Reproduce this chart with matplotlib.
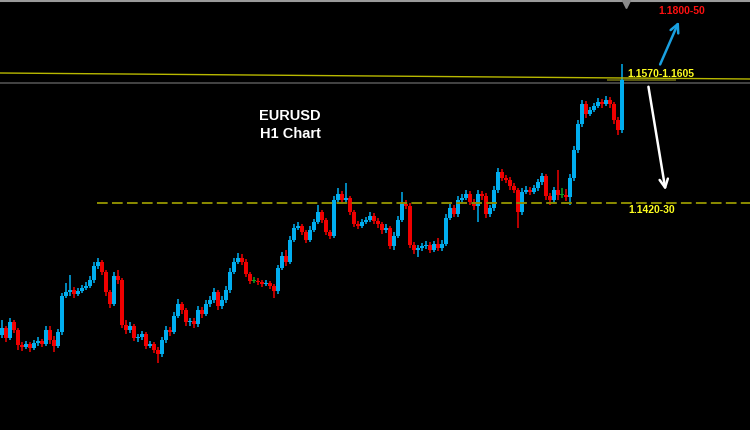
import matplotlib
matplotlib.use("Agg")
import matplotlib.pyplot as plt
import numpy as np

# ---- data: EURUSD H1 candles (prices) ----
first_open = 1.1260
closes = [1.1269, 1.1256, 1.1276, 1.1266, 1.1248, 1.1245, 1.1249, 1.1244, 1.1250, 1.1253,
          1.1249, 1.1266, 1.1254, 1.1246, 1.1264, 1.1309, 1.1314, 1.1316, 1.1311, 1.1315,
          1.1319, 1.1321, 1.1329, 1.1346, 1.1351, 1.1339, 1.1314, 1.1299, 1.1334, 1.1329,
          1.1273, 1.1266, 1.1271, 1.1256, 1.1258, 1.1261, 1.1246, 1.1249, 1.1241, 1.1236,
          1.1254, 1.1266, 1.1264, 1.1284, 1.1299, 1.1291, 1.1276, 1.1278, 1.1274, 1.1291,
          1.1286, 1.1299, 1.1304, 1.1314, 1.1296, 1.1304, 1.1316, 1.1339, 1.1351, 1.1356,
          1.1351, 1.1336, 1.1328, 1.1328, 1.1326, 1.1324, 1.1325, 1.1321, 1.1315, 1.1344,
          1.1359, 1.1351, 1.1379, 1.1394, 1.1396, 1.1389, 1.1379, 1.1391, 1.1401, 1.1414,
          1.1404, 1.1389, 1.1384, 1.1429, 1.1436, 1.1429, 1.1431, 1.1414, 1.1399, 1.1396,
          1.1401, 1.1404, 1.1409, 1.1403, 1.1399, 1.1391, 1.1394, 1.1371, 1.1384, 1.1404,
          1.1424, 1.1421, 1.1373, 1.1366, 1.1369, 1.1371, 1.1373, 1.1366, 1.1374, 1.1369,
          1.1374, 1.1406, 1.1419, 1.1411, 1.1429, 1.1431, 1.1436, 1.1426, 1.1421, 1.1436,
          1.1434, 1.1411, 1.1419, 1.1441, 1.1464, 1.1456, 1.1454, 1.1446, 1.1441, 1.1414,
          1.1439, 1.1441, 1.1439, 1.1444, 1.1451, 1.1459, 1.1434, 1.1429, 1.1441, 1.1435,
          1.1435, 1.1433, 1.1456, 1.1491, 1.1524, 1.1549, 1.1536, 1.1541, 1.1546, 1.1551,
          1.1549, 1.1554, 1.1549, 1.1529, 1.1516, 1.1579]
highs = [1.1279, 1.1271, 1.1281, 1.1279, 1.1269, 1.1251, 1.1253, 1.1251, 1.1254, 1.1258,
         1.1255, 1.1271, 1.1271, 1.1259, 1.1268, 1.1313, 1.1325, 1.1335, 1.1320, 1.1319,
         1.1323, 1.1326, 1.1334, 1.1351, 1.1356, 1.1354, 1.1341, 1.1316, 1.1339, 1.1341,
         1.1331, 1.1279, 1.1276, 1.1274, 1.1261, 1.1265, 1.1264, 1.1253, 1.1251, 1.1245,
         1.1258, 1.1271, 1.1270, 1.1289, 1.1305, 1.1301, 1.1294, 1.1281, 1.1281, 1.1296,
         1.1295, 1.1304, 1.1309, 1.1319, 1.1316, 1.1309, 1.1321, 1.1344, 1.1356, 1.1363,
         1.1361, 1.1355, 1.1339, 1.1333, 1.1331, 1.1329, 1.1329, 1.1328, 1.1324, 1.1348,
         1.1364, 1.1366, 1.1384, 1.1399, 1.1401, 1.1399, 1.1391, 1.1396, 1.1405, 1.1423,
         1.1416, 1.1406, 1.1391, 1.1434, 1.1444, 1.1440, 1.1450, 1.1434, 1.1416, 1.1403,
         1.1405, 1.1408, 1.1414, 1.1413, 1.1406, 1.1401, 1.1399, 1.1396, 1.1389, 1.1409,
         1.1439, 1.1429, 1.1425, 1.1376, 1.1373, 1.1375, 1.1378, 1.1376, 1.1378, 1.1381,
         1.1379, 1.1411, 1.1424, 1.1423, 1.1434, 1.1436, 1.1441, 1.1440, 1.1430, 1.1441,
         1.1440, 1.1438, 1.1423, 1.1446, 1.1469, 1.1468, 1.1460, 1.1458, 1.1450, 1.1444,
         1.1444, 1.1446, 1.1445, 1.1448, 1.1455, 1.1463, 1.1461, 1.1438, 1.1445, 1.1466,
         1.1444, 1.1443, 1.1461, 1.1496, 1.1529, 1.1554, 1.1553, 1.1545, 1.1550, 1.1556,
         1.1555, 1.1559, 1.1558, 1.1551, 1.1533, 1.1599]
lows = [1.1256, 1.1251, 1.1254, 1.1263, 1.1241, 1.1240, 1.1243, 1.1239, 1.1241, 1.1246,
        1.1245, 1.1246, 1.1249, 1.1239, 1.1244, 1.1260, 1.1306, 1.1309, 1.1306, 1.1309,
        1.1313, 1.1316, 1.1319, 1.1325, 1.1343, 1.1335, 1.1309, 1.1294, 1.1296, 1.1324,
        1.1269, 1.1261, 1.1263, 1.1253, 1.1251, 1.1254, 1.1243, 1.1244, 1.1238, 1.1225,
        1.1233, 1.1250, 1.1259, 1.1261, 1.1281, 1.1286, 1.1271, 1.1271, 1.1269, 1.1270,
        1.1281, 1.1284, 1.1295, 1.1300, 1.1291, 1.1293, 1.1300, 1.1313, 1.1336, 1.1349,
        1.1348, 1.1333, 1.1324, 1.1325, 1.1323, 1.1320, 1.1321, 1.1318, 1.1306, 1.1311,
        1.1341, 1.1346, 1.1349, 1.1376, 1.1391, 1.1385, 1.1375, 1.1376, 1.1389, 1.1399,
        1.1400, 1.1385, 1.1380, 1.1381, 1.1425, 1.1424, 1.1425, 1.1410, 1.1395, 1.1393,
        1.1394, 1.1399, 1.1401, 1.1399, 1.1394, 1.1386, 1.1388, 1.1368, 1.1366, 1.1381,
        1.1401, 1.1418, 1.1369, 1.1361, 1.1358, 1.1365, 1.1368, 1.1363, 1.1364, 1.1365,
        1.1365, 1.1371, 1.1404, 1.1408, 1.1408, 1.1425, 1.1429, 1.1423, 1.1416, 1.1401,
        1.1429, 1.1406, 1.1408, 1.1415, 1.1438, 1.1453, 1.1450, 1.1441, 1.1438, 1.1394,
        1.1410, 1.1436, 1.1435, 1.1436, 1.1440, 1.1448, 1.1429, 1.1423, 1.1425, 1.1429,
        1.1431, 1.1428, 1.1423, 1.1453, 1.1488, 1.1520, 1.1531, 1.1534, 1.1539, 1.1544,
        1.1544, 1.1546, 1.1544, 1.1524, 1.1510, 1.1513]

support_level = 1.1425        # "1.1420-30"
zone_left, zone_right = 1.15875, 1.1580   # sloping resistance line
zone_low = 1.1575
zone_box = (1.1578, 1.1580)
labels = {"target": "1.1800-50", "zone": "1.1570-1.1605", "support": "1.1420-30"}
title_lines = ["EURUSD", "H1 Chart"]

# ---- figure ----
W, H = 750, 430
fig = plt.figure(figsize=(W / 100, H / 100), dpi=100, facecolor="black")
ax = fig.add_axes([0, 0, 1, 1])
ax.set_facecolor("black")
ax.set_axis_off()

n = len(closes)
opens = [first_open] + closes[:-1]
idx = np.arange(n)
o = np.array(opens); c = np.array(closes)
hi = np.maximum(np.array(highs), np.maximum(o, c))
lo = np.minimum(np.array(lows), np.minimum(o, c))

UP, DOWN, DOJI = "#00aef0", "#f00000", "#10a020"
cols = [UP if cc > oo else (DOWN if cc < oo else DOJI) for oo, cc in zip(o, c)]

ax.set_xlim(-0.5, (W - 2) / 4)
ax.set_ylim(1.114125, 1.167875)

ax.vlines(idx, lo, hi, colors=cols, linewidth=1.1, zorder=3)
body_h = np.maximum(np.abs(c - o), 0.00010)
ax.bar(idx, body_h, bottom=np.minimum(o, c), width=0.78, color=cols,
       edgecolor="none", zorder=4)

# support dashed line
ax.axhline(support_level, xmin=97 / W, xmax=1, color="#8c8c00",
           linewidth=1.4, linestyle=(0, (5.5, 2.2)), zorder=5)
# resistance zone lines
ax.plot([0, 1], [zone_left, zone_right], transform=ax.get_yaxis_transform(),
        color="#b8b800", linewidth=1.0, zorder=5)
ax.axhline(zone_low, color="#4a4a4a", linewidth=1.3, zorder=2)
ax.fill_between([151.3, 168.5], zone_box[0], zone_box[1], color="#5a5a10", zorder=2,
                linewidth=0)

# top frame line and shift marker
ax.plot([0, 1], [0.997, 0.997], transform=ax.transAxes, color="#9a9a9a", linewidth=1.5)
ax.plot([626 / W], [1 - 4 / H], marker="v", color="#8a8a8a", markersize=6,
        transform=ax.transAxes, clip_on=False)

# title text
fp = dict(family=["Liberation Sans", "DejaVu Sans"], fontweight="bold", color="white")
fig.text(290 / W, 1 - 116 / H, title_lines[0], ha="center", va="center", fontsize=10.5, **fp)
fig.text(290 / W, 1 - 134 / H, title_lines[1], ha="center", va="center", fontsize=10.5, **fp)

lp = dict(family=["Liberation Sans", "DejaVu Sans"], fontweight="bold")
fig.text(658 / W, 1 - 11 / H, labels["target"], ha="left", va="center",
         fontsize=7.5, color="#ff1010", **lp)
fig.text(627 / W, 1 - 74 / H, labels["zone"], ha="left", va="center",
         fontsize=7.5, color="#ffff20", **lp)
fig.text(628 / W, 1 - 210 / H, labels["support"], ha="left", va="center",
         fontsize=7.5, color="#ffff20", **lp)

# arrows
ax.annotate("", xy=(680, H - 19), xytext=(659, H - 67), xycoords="figure pixels",
            textcoords="figure pixels",
            arrowprops=dict(arrowstyle="->,head_length=0.6,head_width=0.3",
                            color="#1aa0e0", lw=1.8))
ax.annotate("", xy=(666, H - 193), xytext=(648, H - 84), xycoords="figure pixels",
            textcoords="figure pixels",
            arrowprops=dict(arrowstyle="->,head_length=0.6,head_width=0.3",
                            color="white", lw=1.8))

fig.savefig("out.png", dpi=100, facecolor="black")
